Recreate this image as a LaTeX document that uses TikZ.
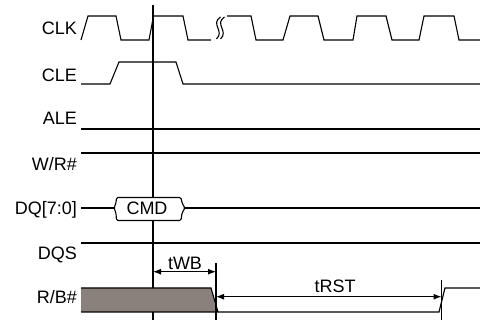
\documentclass[tikz,border=0pt]{standalone}
\usepackage{fontspec}
\setmainfont{Liberation Sans}
\usetikzlibrary{arrows.meta}
\definecolor{busy}{RGB}{139,129,124}
\begin{document}
\begin{tikzpicture}[x=1pt,y=-1pt,
  sig/.style={line width=1.1pt,line join=miter},
  lbl/.style={font=\fontsize{18}{20}\selectfont,inner sep=0pt,anchor=base east},
  tlbl/.style={font=\fontsize{18}{20}\selectfont,inner sep=0pt,anchor=base},
  dim/.style={line width=1.1pt,{Latex[length=8pt,width=6pt]}-{Latex[length=8pt,width=6pt]}},
  mark line/.style={line width=1.1pt},
  brk/.style={line width=1.1pt}]
\useasboundingbox (0,0) rectangle (480,320);
% labels
\node[lbl] (clk) at (77,34.3) {CLK};
\node[lbl] (cle) at (77,81.7) {CLE};
\node[lbl] (ale) at (77,125) {ALE};
\node[lbl] (wr) at (77,170.7) {W/R\#};
\node[lbl] (dq) at (77,215) {DQ[7:0]};
\node[lbl] (dqs) at (77,259.3) {DQS};
\node[lbl] (rb) at (77,304) {R/B\#};
% reference vertical line
\draw[mark line] (153,5) -- (153,320);
% CLK
\draw[sig] (81,40) -- (88,16) -- (116,16) -- (121,40) -- (149,40) -- (153.5,16) -- (183,16) -- (188,40) -- (211,40);
\draw[brk] (220.5,17) .. controls (210,24) and (225,31) .. (216.5,39);
\draw[brk] (224.5,17) .. controls (214,24) and (229,31) .. (220.5,39);
\draw[sig] (227,16) -- (251,16) -- (256,40) -- (283,40) -- (290,16) -- (318,16) -- (324,40) -- (353,40) -- (357,16) -- (386,16) -- (392,40) -- (419,40) -- (424,16) -- (454,16) -- (459,40) -- (480,40);
% CLE
\draw[sig] (81,84) -- (110,84) -- (119,62) -- (176,62) -- (183,84) -- (480,84);
% ALE, W/R#
\draw[sig] (81,129) -- (480,129);
\draw[sig] (81,153) -- (480,153);
% DQ
\draw[sig] (81,208) -- (114,208);
\draw[sig,fill=white,rounded corners=1.5pt] (114,208) -- (116,203) -- (116.5,197.5) -- (181,197.5) -- (182,203) -- (185,208) -- (182,213) -- (181,220.5) -- (116.5,220.5) -- (116,213) -- cycle;
\node[tlbl] (cmd) at (147,215) {CMD};
\draw[sig] (185,208) -- (480,208);
% DQS
\draw[sig] (81,243) -- (480,243);
% R/B#
\fill[busy] (81,288) -- (211,288) -- (218,312) -- (81,312) -- cycle;
\draw[sig] (81,288) -- (211,288) -- (218,312);
\draw[sig] (81,312) -- (439,312) -- (445,288) -- (480,288);
% timing markers
\draw[mark line] (216,263) -- (216,320);
\draw[mark line] (441.5,280) -- (441.5,320);
\coordinate (wbL) at (153,271.7);
\coordinate (wbR) at (216,271.7);
\coordinate (rstL) at (216,296.7);
\coordinate (rstR) at (441.5,296.7);
\draw[dim] (wbL) -- (wbR);
\draw[dim] (rstL) -- (rstR);
\node[tlbl] (twb) at (185,269.5) {tWB};
\node[tlbl] (trst) at (335,293) {tRST};
\end{tikzpicture}
\end{document}
